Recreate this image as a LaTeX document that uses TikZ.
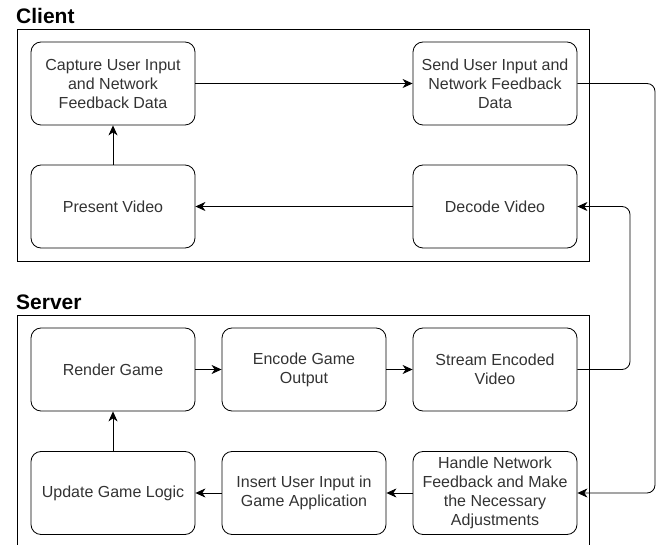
\documentclass[tikz,border=0pt]{standalone}
\usepackage{fontspec}
\setmainfont{Liberation Sans}
\usetikzlibrary{arrows.meta}

\begin{document}
\begin{tikzpicture}[x=1pt, y=-1pt, node distance=191pt,
  >={Stealth[length=10pt,width=9pt,inset=3pt]},
  box/.style={draw, rounded corners=10pt, minimum width=164pt, minimum height=83pt,
    align=center, line width=0.8pt, text=black!80, font=\fontsize{16}{19}\selectfont},
  group/.style={anchor=base west, inner sep=0pt, font=\bfseries\fontsize{21}{24}\selectfont},
  frame/.style={line width=0.9pt},
  link/.style={->, line width=0.8pt, rounded corners=8pt}]
\useasboundingbox (0,0) rectangle (659,545);

% client side
\node[group] (client) at (16,24) {Client};
\draw[frame] (17,29) rectangle (589,261);
\node[box] at (113,83.5) (c1) {Capture User Input\\and Network\\Feedback Data};
\node[box,below of = c1,node distance=123pt] (c2) {Present Video};
\node[box,right of = c1,xshift=191pt] (c3) {Send User Input and\\Network Feedback\\Data};
\node[box,below of = c3,node distance=123pt] (c4) {Decode Video};

% server side
\node[group] (server) at (16,310) {Server};
\draw[frame] (17,545) -- (17,315) -- (589,315) -- (589,545);
\node[box] at (113,369.5) (s1) {Render Game};
\node[box,right of = s1] (s2) {Encode Game\\Output};
\node[box,right of = s2] (s3) {Stream Encoded\\Video};
\node[box,below of = s1,node distance=123.5pt] (s4) {Update Game Logic};
\node[box,right of = s4] (s5) {Insert User Input in\\Game Application};
\node[box,right of = s5] (s6) {Handle Network\\Feedback and Make\\the Necessary\\Adjustments};

% outer tracks between the two sides
\coordinate (outer) at (655,0);
\coordinate (inner) at (630,0);

\draw[link] (c1) -- (c3);
\draw[link] (c2) -- (c1);
\draw[link] (c4) -- (c2);
\draw[link] (c3.east) -- (c3.east -| outer) -- (s6.east -| outer) -- (s6.east);
\draw[link] (s3.east) -- (s3.east -| inner) -- (c4.east -| inner) -- (c4.east);
\draw[link] (s1) -- (s2);
\draw[link] (s2) -- (s3);
\draw[link] (s4) -- (s1);
\draw[link] (s6) -- (s5);
\draw[link] (s5) -- (s4);
    %
\end{tikzpicture}
\end{document}
